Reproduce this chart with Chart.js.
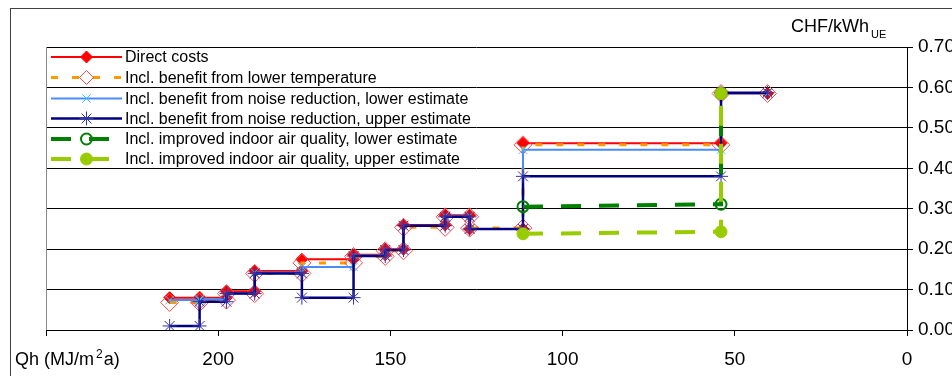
<!DOCTYPE html>
<html>
<head>
<meta charset="utf-8">
<script src="https://cdn.jsdelivr.net/npm/chart.js@4/dist/chart.umd.min.js"></script>
<style>
  html, body { margin: 0; padding: 0; background: #fff; }
  canvas { display: block; }
</style>
</head>
<body>
<canvas id="chart" width="952" height="376"></canvas>
<script>
// Qh break points (MJ/m2a), each step runs from one break to the next
const qhBreaks = [214.1, 205.4, 197.6, 189.4, 175.7, 160.7, 151.5, 146.2, 134.1, 127.0, 111.5, 54.0, 40.5];

// cost per step (CHF/kWh_UE)
const directCosts   = [0.080, 0.080, 0.096, 0.146, 0.175, 0.186, 0.200, 0.260, 0.284, 0.250, 0.462, 0.585];
const lowerTemp     = [0.068, 0.074, 0.090, 0.140, 0.166, 0.182, 0.196, 0.254, 0.280, 0.252, 0.458, 0.585];
const noiseLower    = [0.074, 0.076, 0.090, 0.142, 0.156, 0.184, 0.198, 0.258, 0.282, 0.250, 0.446, 0.585];
const noiseUpper    = [0.010, 0.070, 0.090, 0.140, 0.080, 0.183, 0.198, 0.258, 0.280, 0.250, 0.380, 0.587];

// air quality series only exist at the last steps
const airQh    = [111.5, 54.0, 54.0];
const airLower = [0.305, 0.311, 0.585];
const airUpper = [0.238, 0.243, 0.585];

const seriesLabels = [
  'Direct costs',
  'Incl. benefit from lower temperature',
  'Incl. benefit from noise reduction, lower estimate',
  'Incl. benefit from noise reduction, upper estimate',
  'Incl. improved indoor air quality, lower estimate',
  'Incl. improved indoor air quality, upper estimate'
];

const xTicks = [0, 50, 100, 150, 200, 250];

// turn step costs into corner points
const steps = (costs) => {
  const pts = [];
  costs.forEach((c, i) => {
    pts.push({ x: qhBreaks[i], y: c });
    pts.push({ x: qhBreaks[i + 1], y: c });
  });
  return pts;
};
const pairs = (xs, ys) => xs.map((x, i) => ({ x: x, y: ys[i] }));

const FONT = '"Liberation Sans", Arial, sans-serif';

const decor = {
  id: 'decor',
  beforeDatasetsDraw(chart) {
    const { ctx, chartArea: a } = chart;
    ctx.save();
    // grey left edge of plot
    ctx.strokeStyle = '#8c8c8c';
    ctx.lineWidth = 1;
    ctx.beginPath();
    ctx.moveTo(a.left + 0.5, a.top);
    ctx.lineTo(a.left + 0.5, a.bottom);
    ctx.stroke();
    ctx.restore();
  },
  afterDraw(chart) {
    const { ctx } = chart;
    ctx.save();
    // outer frame
    ctx.strokeStyle = '#404040';
    ctx.lineWidth = 1;
    ctx.strokeRect(10.5, 8.5, 1000, 400);

    // axis titles
    ctx.fillStyle = '#000';
    ctx.textBaseline = 'alphabetic';
    ctx.textAlign = 'left';
    ctx.font = '18px ' + FONT;
    ctx.fillText('CHF/kWh', 791, 32);
    let w = ctx.measureText('CHF/kWh').width;
    ctx.font = '11px ' + FONT;
    ctx.fillText('UE', 791 + w + 2, 38);

    ctx.font = '18px ' + FONT;
    ctx.fillText('Qh (MJ/m', 15, 365);
    w = ctx.measureText('Qh (MJ/m').width;
    ctx.font = '12px ' + FONT;
    ctx.fillText('2', 15 + w + 2, 358);
    const w2 = ctx.measureText('2').width;
    ctx.font = '18px ' + FONT;
    ctx.fillText('a)', 15 + w + w2 + 3, 365);

    // legend
    const rowY = [57, 77.5, 98.5, 118.5, 139, 159];
    chart.data.datasets.forEach((ds, i) => {
      const y = rowY[i];
      ctx.save();
      ctx.strokeStyle = ds.borderColor;
      ctx.lineWidth = ds.borderWidth;
      ctx.setLineDash(ds.borderDash || []);
      ctx.beginPath();
      ctx.moveTo(51, y);
      ctx.lineTo(122, y);
      ctx.stroke();
      ctx.setLineDash([]);
      ctx.fillStyle = ds.pointBackgroundColor;
      ctx.strokeStyle = ds.pointBorderColor;
      ctx.lineWidth = ds.pointBorderWidth;
      Chart.helpers.drawPoint(ctx, {
        pointStyle: ds.pointStyle,
        radius: Math.min(ds.pointRadius, 7),
        rotation: 0,
        borderWidth: ds.pointBorderWidth
      }, 86.5, y);
      ctx.restore();
      ctx.fillStyle = '#000';
      ctx.font = '16px ' + FONT;
      ctx.textBaseline = 'middle';
      ctx.fillText(ds.label, 125, y + 1);
    });
    ctx.restore();
  }
};

new Chart(document.getElementById('chart'), {
  type: 'line',
  plugins: [decor],
  data: {
    datasets: [
      {
        label: seriesLabels[0], data: steps(directCosts), order: 6,
        borderColor: '#ff0000', borderWidth: 2,
        pointStyle: 'rectRot', pointRadius: 6,
        pointBackgroundColor: '#ff0000', pointBorderColor: '#ff0000', pointBorderWidth: 1
      },
      {
        label: seriesLabels[1], data: steps(lowerTemp), order: 5,
        borderColor: '#ff9900', borderWidth: 3, borderDash: [7, 14],
        pointStyle: 'rectRot', pointRadius: 9,
        pointBackgroundColor: 'rgba(0,0,0,0)', pointBorderColor: '#ff4a4a', pointBorderWidth: 1
      },
      {
        label: seriesLabels[2], data: steps(noiseLower), order: 4,
        borderColor: '#4a8cff', borderWidth: 2,
        pointStyle: 'crossRot', pointRadius: 6,
        pointBackgroundColor: '#33ccff', pointBorderColor: '#33ccff', pointBorderWidth: 1
      },
      {
        label: seriesLabels[3], data: steps(noiseUpper), order: 3,
        borderColor: '#000080', borderWidth: 2.5,
        pointStyle: 'star', pointRadius: 7,
        pointBackgroundColor: '#3333aa', pointBorderColor: '#3333aa', pointBorderWidth: 1
      },
      {
        label: seriesLabels[4], data: pairs(airQh, airLower), order: 2,
        borderColor: '#008000', borderWidth: 4, borderDash: [20, 18],
        pointStyle: 'circle', pointRadius: 5.5,
        pointBackgroundColor: 'rgba(0,0,0,0)', pointBorderColor: '#008000', pointBorderWidth: 2
      },
      {
        label: seriesLabels[5], data: pairs(airQh, airUpper), order: 1,
        borderColor: '#99cc00', borderWidth: 4, borderDash: [20, 18],
        pointStyle: 'circle', pointRadius: 6,
        pointBackgroundColor: '#99cc00', pointBorderColor: '#99cc00', pointBorderWidth: 1
      }
    ]
  },
  options: {
    responsive: false,
    animation: false,
    events: [],
    layout: { padding: { left: 46, top: 47, right: 0, bottom: 0 } },
    elements: { line: { tension: 0 } },
    plugins: { legend: { display: false }, tooltip: { enabled: false } },
    scales: {
      x: {
        type: 'linear',
        reverse: true,
        min: 0,
        max: 250,
        afterBuildTicks: (s) => { s.ticks = xTicks.map(v => ({ value: v })); },
        afterFit: (s) => { s.height = 46; },
        border: { color: '#000', width: 1 },
        grid: { drawOnChartArea: false, tickLength: 6, color: '#000' },
        ticks: {
          color: '#000',
          font: { family: FONT, size: 19 },
          padding: 12,
          maxRotation: 0,
          callback: (v) => (v === 250 ? '' : String(v))
        }
      },
      y: {
        position: 'right',
        min: 0,
        max: 0.7,
        afterFit: (s) => { s.width = 45; },
        border: { color: '#000', width: 1 },
        grid: { color: '#000', tickLength: 6 },
        ticks: {
          stepSize: 0.1,
          color: '#000',
          font: { family: FONT, size: 19 },
          padding: 5,
          callback: (v) => v.toFixed(2)
        }
      }
    }
  }
});
</script>
</body>
</html>
